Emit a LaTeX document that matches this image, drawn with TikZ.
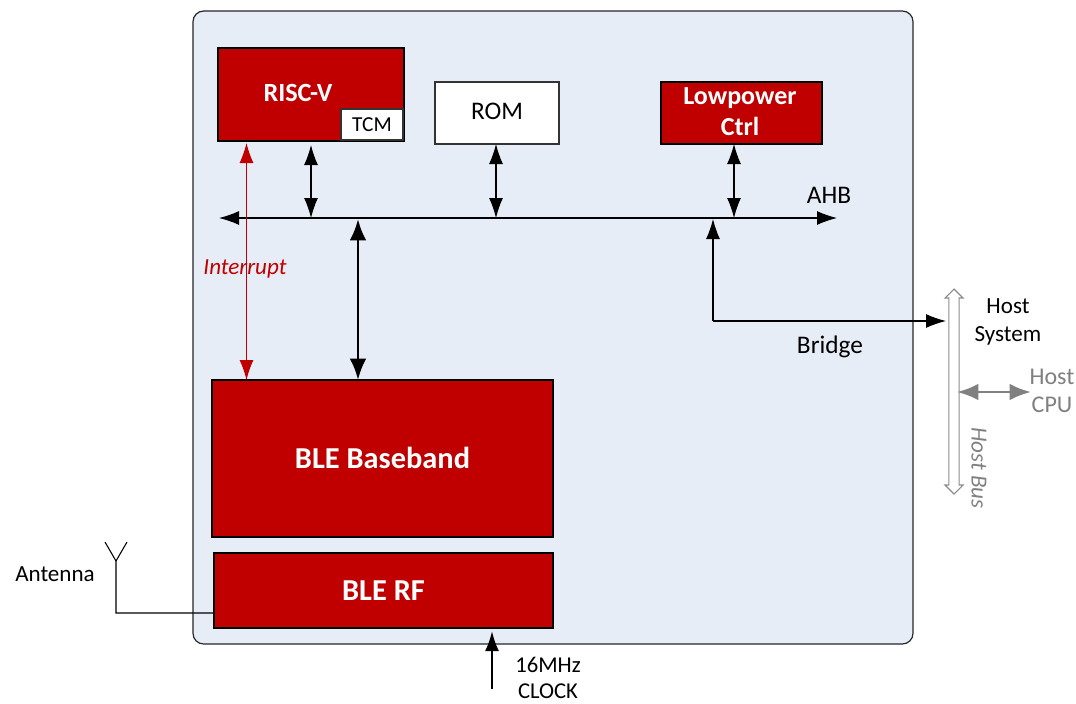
\documentclass[tikz,border=0pt]{standalone}
\usepackage{fontspec}
\setmainfont{Carlito}
\usepackage[rgb]{xcolor}
\definecolor{color1}{RGB}{192,0,0}
\definecolor{color2}{RGB}{231,237,247}
\definecolor{color3}{RGB}{128,128,128}
\usepackage{tikz}
\usetikzlibrary{arrows.meta,shapes.arrows}
\def\px{0.75pt}

\begin{document}
\begin{tikzpicture}[x=0.75pt,y=-0.75pt,line width=0.8pt,
  bus/.style={{Latex[length=15pt,width=10.5pt]}-{Latex[length=15pt,width=10.5pt]}},
  thickbus/.style={{Latex[length=16pt,width=12.5pt]}-{Latex[length=16pt,width=12.5pt]},line width=2.2pt},
  onearrow/.style={-{Latex[length=15pt,width=10.5pt]}},
  rednode/.style={draw=black,fill=color1,text=white,font=\fontsize{19.5}{23}\selectfont\bfseries,line width=1.2pt,inner sep=0pt,outer sep=0pt,align=center},
  whitenode/.style={draw=black!80,fill=white,line width=1.2pt,inner sep=0pt,outer sep=0pt,font=\fontsize{19}{20}\selectfont},
  textnode/.style={inner sep=0pt,align=center,font=\fontsize{17.3}{21}\selectfont},
  greynode/.style={textnode,text=color3}
]
\useasboundingbox (0,0) rectangle (1076,704);

% the chip
\node[draw=black!85,fill=color2,line width=0.9pt,rounded corners=8pt,minimum width=720*\px,minimum height=633*\px,inner sep=0pt,outer sep=0pt] (chip) at (553,327.5) {};

% the blocks
\node[rednode,minimum width=186*\px,minimum height=93*\px] (risc) at (311,94.5) {};
\node[textnode,text=white,font=\fontsize{19.7}{20}\selectfont\bfseries] (risclabel) at (298,93) {RISC-V};
\node[whitenode,minimum width=62*\px,minimum height=31*\px,font=\fontsize{16}{20}\selectfont] (tcm) at (372,124.5) {TCM};
\node[whitenode,minimum width=124*\px,minimum height=62*\px] (rom) at (497,113) {\raisebox{2.2pt}{ROM}};
\node[rednode,minimum width=161*\px,minimum height=62*\px] (lowpower) at (741.5,113) {};
\node[textnode,text=white,font=\fontsize{19.5}{23}\selectfont\bfseries] (lowpowerlabel) at (740,111.5) {Lowpower\\Ctrl};
\node[rednode,minimum width=341*\px,minimum height=157*\px,font=\fontsize{22.8}{24}\selectfont\bfseries] (baseband) at (382.5,458.5) {\raisebox{1.2pt}{BLE Baseband}};
\node[rednode,minimum width=339*\px,minimum height=75*\px,font=\fontsize{22.8}{24}\selectfont\bfseries] (rf) at (383.5,590.5) {BLE RF};

% the points on the bus
\coordinate (busl) at (219,218);
\coordinate (busr) at (837,218);
\coordinate (busa) at (311,218);
\coordinate (busb) at (496,218);
\coordinate (busc) at (734,218);
\coordinate (busd) at (358,219);
\coordinate (buse) at (713,219);
\coordinate (bridge) at (713,321);
\coordinate (hostin) at (946,321);
\coordinate (riscbus) at (311,145);
\coordinate (intrisc) at (246.5,143);
\coordinate (intble) at (246.5,380);
\coordinate (anta) at (116,613);
\coordinate (antb) at (116,561);
\coordinate (antl) at (105,542);
\coordinate (antr) at (127,542);
\coordinate (clock) at (492,689);
\coordinate (clockin) at (492,631);
\coordinate (cpubus) at (957,392);
\coordinate (cpu) at (1031,392);

% the AHB bus
\draw[bus] (busl) -- (busr);
\draw[bus] (riscbus) -- (busa);
\draw[bus] (busb |- rom.south) -- (busb);
\draw[bus] (busc |- lowpower.south) -- (busc);
\draw[thickbus] (busd |- baseband.north) -- (busd);
\draw[onearrow] (bridge) -- (buse);
\draw[onearrow] (bridge) -- (hostin);

% the interrupt line
\draw[bus,color1] (intble) -- (intrisc);

% the antenna
\draw (rf.west |- anta) -- (anta) -- (antb) -- (antl);
\draw (antb) -- (antr);

% the clock
\draw[onearrow,line width=1.8pt] (clock) -- (clockin);

% the host side
\node[draw=black!45,fill=white,double arrow,rotate=90,minimum height=205*\px,minimum width=18*\px,double arrow head extend=3*\px,inner sep=2.6pt,outer sep=0pt] (hostbus) at (954,391.5) {};
\draw[thickbus,color3] (cpubus) -- (cpu);

% the labels
\node[textnode,text=color1,font=\fontsize{17.3}{20}\selectfont\itshape] (interrupt) at (245,269) {Interrupt};
\node[textnode,font=\fontsize{19}{20}\selectfont] (ahb) at (829,195) {AHB};
\node[textnode,font=\fontsize{19}{20}\selectfont] (bridgelabel) at (830,347) {Bridge};
\node[textnode] (hostsystem) at (1008,322) {Host\\System};
\node[greynode,font=\fontsize{18}{21}\selectfont] (hostcpu) at (1052,391) {Host\\CPU};
\node[greynode,rotate=-90,font=\fontsize{17.3}{20}\selectfont\itshape] (hostbuslabel) at (979,468) {Host Bus};
\node[textnode] (antenna) at (55,574) {Antenna};
\node[textnode,font=\fontsize{17}{19}\selectfont] (clocklabel) at (548,678) {16MHz\\CLOCK};

\end{tikzpicture}
\end{document}
